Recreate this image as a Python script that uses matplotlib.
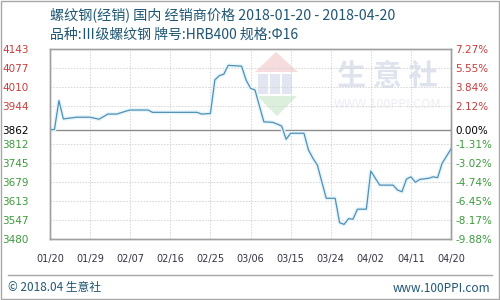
import matplotlib
matplotlib.use("Agg")
import matplotlib.pyplot as plt
from matplotlib.patches import Rectangle, Polygon
import pandas as pd

plt.rcParams['font.family'] = ['Noto Sans CJK SC', 'DejaVu Sans']

title1 = "螺纹钢(经销) 国内 经销商价格 2018-01-20 - 2018-04-20"
title2 = "品种:Ⅲ级螺纹钢 牌号:HRB400 规格:Φ16"

dates = ["2018-01-20", "2018-01-21", "2018-01-22", "2018-01-23", "2018-01-26", "2018-01-29",
         "2018-01-31", "2018-02-02", "2018-02-04", "2018-02-06", "2018-02-07", "2018-02-11",
         "2018-02-12", "2018-02-22", "2018-02-23", "2018-02-25", "2018-02-26", "2018-02-27",
         "2018-02-28", "2018-03-01", "2018-03-04", "2018-03-05", "2018-03-06", "2018-03-07",
         "2018-03-09", "2018-03-11", "2018-03-12", "2018-03-13", "2018-03-14", "2018-03-15",
         "2018-03-18", "2018-03-19", "2018-03-20", "2018-03-21", "2018-03-23", "2018-03-25",
         "2018-03-26", "2018-03-27", "2018-03-28", "2018-03-29", "2018-03-30", "2018-04-01",
         "2018-04-02", "2018-04-04", "2018-04-07", "2018-04-08", "2018-04-09", "2018-04-10",
         "2018-04-11", "2018-04-12", "2018-04-13", "2018-04-15", "2018-04-16", "2018-04-17",
         "2018-04-18", "2018-04-20"]
prices = [3862, 3862, 3963, 3899, 3905, 3905,
          3898, 3916, 3916, 3926, 3930, 3930,
          3922, 3922, 3916, 3918, 4035, 4050,
          4055, 4086, 4083, 4035, 4006, 4000,
          3889, 3887, 3881, 3874, 3828, 3849,
          3849, 3791, 3762, 3738, 3622, 3622,
          3537, 3531, 3551, 3549, 3584, 3584,
          3717, 3668, 3668, 3651, 3645, 3689,
          3697, 3678, 3688, 3692, 3697, 3694,
          3744, 3794]

base_price = 3862
left_ticks = [4143, 4077, 4010, 3944, 3862, 3812, 3745, 3679, 3613, 3547, 3480]
right_labels = ["7.27%", "5.55%", "3.84%", "2.12%", "0.00%", "-1.31%", "-3.02%",
                "-4.74%", "-6.45%", "-8.17%", "-9.88%"]
x_ticks = ["2018-01-20", "2018-01-29", "2018-02-07", "2018-02-16", "2018-02-25", "2018-03-06",
           "2018-03-15", "2018-03-24", "2018-04-02", "2018-04-11", "2018-04-20"]
footer_left = "© 2018.04 生意社"
footer_right = "www.100PPI.com"

RED = "#c83c3c"
GREEN = "#3c9a3c"
BLUE_TXT = "#1f5673"

fig = plt.figure(figsize=(5, 3), dpi=100)
ax = fig.add_axes([0.1, 1 - 239 / 300, 0.802, 190 / 300])
ax.set_facecolor("none")

d = pd.to_datetime(dates)
xt = pd.to_datetime(x_ticks)

# watermark
wm_col = "#dfe3ee"
ax.text(387 / 500, 1 - 76 / 300, "生 意 社", transform=fig.transFigure, fontsize=21,
        color=wm_col, ha="center", va="center", zorder=0.2, fontweight="bold")
ax.text(387 / 500, 1 - 105 / 300, "WWW.100PPI.COM", transform=fig.transFigure, fontsize=9,
        color="#eceef4", ha="center", va="center", zorder=0.2)
roof = Polygon([(255 / 500, 1 - 72 / 300), (276 / 500, 1 - 52 / 300), (298 / 500, 1 - 72 / 300)],
               closed=True, transform=fig.transFigure, facecolor="#f6dcdc", edgecolor="none", zorder=0.2)
ax.add_artist(roof)
for bx in [258, 270, 282]:
    r = Rectangle((bx / 500, 1 - 94 / 300), 10 / 500, 20 / 300, transform=fig.transFigure,
                  facecolor="#e2e6f3", edgecolor="none", zorder=0.2)
    ax.add_artist(r)
gtri = Polygon([(257 / 500, 1 - 96 / 300), (297 / 500, 1 - 96 / 300), (277 / 500, 1 - 116 / 300)],
               closed=True, transform=fig.transFigure, facecolor="#dcefdc", edgecolor="none", zorder=0.2)
ax.add_artist(gtri)

# grid
for v in left_ticks:
    if v == base_price:
        ax.axhline(v, color="#8c8c8c", lw=1.0, zorder=1)
    else:
        ax.axhline(v, color="#d4d4d4", lw=0.7, ls=(0, (1.5, 1.5)), zorder=0.5)
for t in xt:
    ax.axvline(t, color="#d4d4d4", lw=0.7, ls=(0, (1.5, 1.5)), zorder=0.5)

ax.plot(d, prices, color="#e6f5fb", lw=3.0, zorder=2, solid_joinstyle="round")
ax.plot(d, prices, color="#5090b5", lw=0.9, zorder=3)

ax.set_xlim(xt[0], xt[-1])
ax.set_ylim(3480, 4143)
ax.set_yticks(left_ticks)
ax.set_yticklabels([str(v) for v in left_ticks], fontsize=7.5, family="DejaVu Sans")
for lbl, v in zip(ax.get_yticklabels(), left_ticks):
    lbl.set_color(RED if v > base_price else (GREEN if v < base_price else "black"))
ax.tick_params(axis="y", length=0, pad=15.5)
ax.set_xticks(xt)
ax.set_xticklabels([t.strftime("%m/%d") for t in xt], fontsize=7, color="#333344", family="DejaVu Sans")
ax.tick_params(axis="x", length=0, pad=11)

ax2 = ax.twinx()
ax2.set_ylim(3480, 4143)
ax2.set_yticks(left_ticks)
ax2.set_yticklabels(right_labels, fontsize=7.5, family="DejaVu Sans")
for lbl, v in zip(ax2.get_yticklabels(), left_ticks):
    lbl.set_color(RED if v > base_price else (GREEN if v < base_price else "black"))
ax2.tick_params(axis="y", length=0, pad=3)

for a in (ax, ax2):
    for s in a.spines.values():
        s.set_color("#a0a0a0")
        s.set_linewidth(1.0)

fig.text(50 / 500, 1 - 15 / 300, title1, fontsize=10.2, color=BLUE_TXT, ha="left", va="center")
fig.text(50 / 500, 1 - 35 / 300, title2, fontsize=10, color=BLUE_TXT, ha="left", va="center")

fig.add_artist(plt.Line2D([8 / 500, 492 / 500], [1 - 275 / 300, 1 - 275 / 300],
                          color="#a8a8a8", lw=1.0, transform=fig.transFigure))
fig.text(8 / 500, 1 - 288 / 300, footer_left, fontsize=8.5, color=BLUE_TXT, ha="left", va="center")
fig.text(490 / 500, 1 - 288 / 300, footer_right, fontsize=8.5, color=BLUE_TXT, ha="right", va="center")

fig.add_artist(Rectangle((0.001, 0.002), 0.997, 0.995, transform=fig.transFigure,
                         fill=False, edgecolor="#a8a8a8", lw=1.0))

fig.savefig("out.png", dpi=100)
